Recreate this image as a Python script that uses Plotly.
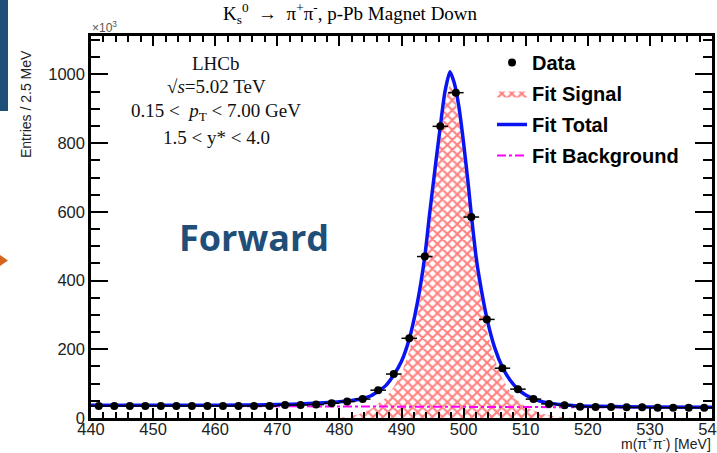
import plotly.graph_objects as go

# ---------------- data (units: x10^3 entries / 2.5 MeV) ----------------
bin_centers = [441.25 + 2.5 * k for k in range(40)]
data_values = [35, 35, 35, 35, 35, 35, 35, 35, 35, 35,
               35, 35, 38, 38, 39, 43, 48, 55, 81, 128,
               232, 470, 849, 947, 585, 287, 145, 84, 55, 41,
               37, 33, 32, 32, 31, 31, 30, 30, 30, 30]
bin_half_width = [1.25] * 40

fit_mass = [440, 460, 470, 475, 480, 483, 485, 486.25, 487.5, 488.75,
            490, 491.25, 492.5, 493.75, 494.5, 495.5, 496.25, 497, 497.8, 498.5,
            499.25, 500, 500.75, 501.25, 502, 502.5, 503.75, 505, 506.25, 507.5,
            508.75, 510, 511.25, 513, 515, 518, 522, 530, 540]
fit_total = [37, 37, 39, 42, 47, 54, 64, 78, 95, 125,
             165, 230, 330, 470, 590, 740, 849, 950, 1008, 975,
             905, 800, 680, 590, 470, 410, 290, 205, 148, 110,
             84, 67, 56, 46, 40, 36, 34, 32, 31]

sig_mass = [480, 483, 485, 486.25, 487.5, 488.75, 490, 491.25, 492.5, 493.75,
            494.5, 495.5, 496.25, 497, 497.8, 498.5, 499.25, 500, 500.75, 501.25,
            502, 502.5, 503.75, 505, 506.25, 507.5, 508.75, 510, 511.25, 513,
            515, 518]
sig_values = [0, 10, 25, 42, 60, 90, 130, 195, 295, 435,
              555, 705, 815, 915, 973, 940, 870, 765, 645, 555,
              435, 375, 255, 170, 114, 76, 50, 33, 22, 11,
              4, 0]

bkg_mass = [440, 540]
bkg_values = [36, 30]

x_ticks = [440, 450, 460, 470, 480, 490, 500, 510, 520, 530, 540]
y_ticks = [0, 200, 400, 600, 800, 1000]

# ---------------- geometry helpers (pixels -> paper) ----------------
W, H = 717, 453
L, R, T, B = 91, 5, 36, 35
PW, PH = W - L - R, H - T - B


def px(xp):
    return (xp - L) / PW


def py(yp):
    return (H - B - yp) / PH


fig = go.Figure()

fig.add_trace(go.Scatter(
    x=sig_mass, y=sig_values, mode="lines", line=dict(width=0, color="red"),
    fill="tozeroy", fillcolor="white",
    fillpattern=dict(shape="x", fgcolor="#ff0000", bgcolor="white", size=7, solidity=0.5),
    name="<b>Fit Signal</b>", legendgroup="b", legendrank=2))

fig.add_trace(go.Scatter(
    x=bkg_mass, y=bkg_values, mode="lines",
    line=dict(color="#ff00ff", width=2, dash="dashdot"),
    name="<b>Fit Background</b>", legendgroup="d", legendrank=4))

fig.add_trace(go.Scatter(
    x=fit_mass, y=fit_total, mode="lines", line=dict(color="#0a14f0", width=3.5, shape="spline", smoothing=0.6),
    name="<b>Fit Total</b>", legendgroup="c", legendrank=3))

fig.add_trace(go.Scatter(
    x=bin_centers, y=data_values, mode="markers",
    marker=dict(color="black", size=8, symbol="circle"),
    error_x=dict(type="data", array=bin_half_width, visible=True, color="black", thickness=1.5, width=0),
    name="<b>Data</b>", legendgroup="a", legendrank=1))

axis_font = dict(family="Liberation Sans, Arial, sans-serif", size=16.5, color="#222")

fig.update_layout(
    width=W, height=H,
    margin=dict(l=L, r=R, t=T, b=B, autoexpand=False),
    paper_bgcolor="white", plot_bgcolor="white",
    showlegend=True,
    legend=dict(x=px(492), y=py(43), xanchor="left", yanchor="top",
                bgcolor="rgba(0,0,0,0)", traceorder="grouped", tracegroupgap=2,
                font=dict(family="Liberation Sans, Arial, sans-serif", size=20, color="black"),
                itemwidth=30),
    xaxis=dict(range=[440, 540], tickmode="linear", tick0=x_ticks[0], dtick=x_ticks[1] - x_ticks[0],
               ticks="inside", ticklen=10, tickwidth=2, ticklabelstandoff=-6, ticklabeloverflow="allow",
               automargin=False,
               tickcolor="black", showline=True, linecolor="black", linewidth=2.5, mirror="allticks",
               showgrid=False, zeroline=False, tickfont=axis_font,
               minor=dict(dtick=2, ticks="inside", ticklen=6, tickwidth=2, tickcolor="black", showgrid=False)),
    yaxis=dict(range=[0, 1112], tickmode="linear", tick0=y_ticks[0], dtick=y_ticks[1] - y_ticks[0],
               ticks="inside", ticklen=17, tickwidth=2, automargin=False,
               tickcolor="black", showline=True, linecolor="black", linewidth=2.5, mirror="allticks",
               showgrid=False, zeroline=False, tickfont=axis_font,
               minor=dict(dtick=50, ticks="inside", ticklen=9, tickwidth=2, tickcolor="black", showgrid=False)),
)

serif = "Liberation Serif, Times New Roman, serif"
ann = []
ann.append(dict(text="K<sub>s</sub><sup>0</sup>  →  π<sup>+</sup>π<sup>-</sup>, p-Pb Magnet Down",
                x=px(350), y=py(13), xref="paper", yref="paper", showarrow=False,
                font=dict(family=serif, size=19, color="black"), xanchor="center", yanchor="middle"))
ann.append(dict(text="×10<sup>3</sup>", x=px(90), y=py(27), xref="paper", yref="paper", showarrow=False,
                font=dict(family="Liberation Sans, Arial, sans-serif", size=12, color="#555"),
                xanchor="left", yanchor="middle"))
ann.append(dict(text="Entries / 2.5 MeV", x=px(26), y=py(104), xref="paper", yref="paper", showarrow=False,
                textangle=-90, font=dict(family="Liberation Sans, Arial, sans-serif", size=14, color="#222"),
                xanchor="center", yanchor="middle"))
ann.append(dict(text="m(π<sup>+</sup>π<sup>-</sup>) [MeV]", x=px(713), y=py(443), xref="paper", yref="paper",
                showarrow=False, font=dict(family="Liberation Sans, Arial, sans-serif", size=14, color="#222"),
                xanchor="right", yanchor="middle"))
info_lines = ["LHCb", "√<i>s</i>=5.02 TeV", "0.15 <  <i>p</i><sub>T</sub> < 7.00 GeV", "1.5 < y* < 4.0"]
info_y = [63, 87, 112, 137]
for t, yy in zip(info_lines, info_y):
    ann.append(dict(text=t, x=px(216), y=py(yy), xref="paper", yref="paper", showarrow=False,
                    font=dict(family=serif, size=19, color="#111"), xanchor="center", yanchor="middle"))
ann.append(dict(text="<b>Forward</b>", x=px(254), y=py(237), xref="paper", yref="paper", showarrow=False,
                font=dict(family="Open Sans, Lato, sans-serif", size=36, color="#1f4e79"),
                xanchor="center", yanchor="middle"))
fig.update_layout(annotations=ann)

fig.add_shape(type="rect", xref="paper", yref="paper", x0=px(0), x1=px(8), y0=py(0), y1=py(111),
              fillcolor="#1f4e79", line=dict(width=0), layer="above")
fig.add_shape(type="path", xref="paper", yref="paper",
              path=f"M {px(0)},{py(255)} L {px(8)},{py(260.5)} L {px(0)},{py(266)} Z",
              fillcolor="#d5651c", line=dict(width=0), layer="above")

fig.write_html("out.html")
